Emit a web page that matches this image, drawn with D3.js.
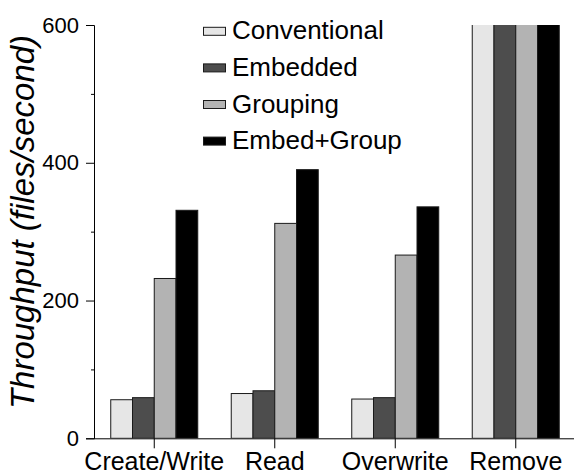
<!DOCTYPE html>
<html>
<head>
<meta charset="utf-8">
<script src="https://cdn.jsdelivr.net/npm/d3@7"></script>
<style>
	body { margin: 0; background: #fff; }
	text { font-family: "Liberation Sans", Arial, sans-serif; fill: #000; }
</style>
</head>
<body>
<svg id="chart" width="574" height="476"></svg>
<script>

// データ
var categories = ["Create/Write", "Read", "Overwrite", "Remove"];
var series = ["Conventional", "Embedded", "Grouping", "Embed+Group"];
var conventional = [56, 65, 57, 700];
var embedded = [59, 69, 59, 700];
var grouping = [232, 312, 266, 700];
var embedGroup = [331, 390, 336, 700];
var majorTicks = [0, 200, 400, 600];
var minorTicks = [100, 300, 500];

var colors = ["#e6e6e6", "#4d4d4d", "#b3b3b3", "#000000"];

var values = [conventional, embedded, grouping, embedGroup];

var svg = d3.select("#chart");

var plotLeft = 94, plotRight = 576, plotTop = 25, plotBottom = 438.3;

var x = d3.scaleBand()
	.domain(categories)
	.range([plotLeft, plotRight])
	.paddingInner(0.278)
	.paddingOuter(0.139);

var xs = d3.scaleBand()
	.domain(series)
	.range([0, x.bandwidth()]);

var y = d3.scaleLinear()
	.domain([0, 600])
	.range([plotBottom, plotTop]);

//クリップ (600以上は切る)
svg.append("clipPath")
	.attr("id", "plotClip")
	.append("rect")
	.attr("x", plotLeft)
	.attr("y", plotTop)
	.attr("width", plotRight - plotLeft)
	.attr("height", plotBottom - plotTop);

//棒
var bars = svg.append("g").attr("clip-path", "url(#plotClip)");

series.forEach(function(s, si){
	bars.append("g")
		.selectAll("rect")
		.data(categories)
		.enter()
		.append("rect")
		.attr("x", function(d){ return x(d) + xs(s); })
		.attr("y", function(d, i){ return y(values[si][i]); })
		.attr("width", xs.bandwidth())
		.attr("height", function(d, i){ return plotBottom - y(values[si][i]); })
		.attr("fill", colors[si])
		.attr("stroke", "#1a1a1a")
		.attr("stroke-width", 1);
});

//y軸
var yAxis = svg.append("g")
	.attr("transform", "translate(" + plotLeft + ",0)")
	.call(d3.axisLeft(y).tickValues(majorTicks).tickSize(8).tickPadding(7));

svg.append("g")
	.attr("transform", "translate(" + plotLeft + ",0)")
	.call(d3.axisLeft(y).tickValues(minorTicks).tickSize(3).tickFormat(""))
	.select(".domain").remove();

yAxis.selectAll("text")
	.attr("font-size", "22px")
	.attr("font-family", "Liberation Sans, Arial, sans-serif");

//x軸
var xAxis = svg.append("g")
	.attr("transform", "translate(0," + plotBottom + ")")
	.call(d3.axisBottom(x).tickSize(10).tickSizeOuter(0).tickPadding(4));

xAxis.select(".domain").attr("d", "M" + plotLeft + ",0.5H574");

xAxis.selectAll("text")
	.attr("font-size", "25px")
	.attr("font-family", "Liberation Sans, Arial, sans-serif");

svg.selectAll(".domain, .tick line").attr("stroke", "#000");

//y軸ラベル
svg.append("text")
	.attr("transform", "translate(34," + 222 + ") rotate(-90)")
	.attr("text-anchor", "middle")
	.attr("font-size", "33px")
	.attr("font-style", "italic")
	.text("Throughput (files/second)");

//凡例
var legend = svg.append("g")
	.selectAll("g")
	.data(series)
	.enter()
	.append("g")
	.attr("transform", function(d, i){
		return "translate(203," + (31.3 + i * 36.6) + ")";
	});

legend.append("rect")
	.attr("x", 0.5)
	.attr("y", -4)
	.attr("width", 22)
	.attr("height", 8)
	.attr("fill", function(d, i){ return colors[i]; })
	.attr("stroke", "#1a1a1a");

legend.append("text")
	.attr("x", 29)
	.attr("y", 8)
	.attr("font-size", "26px")
	.text(function(d){ return d; });

</script>
</body>
</html>
